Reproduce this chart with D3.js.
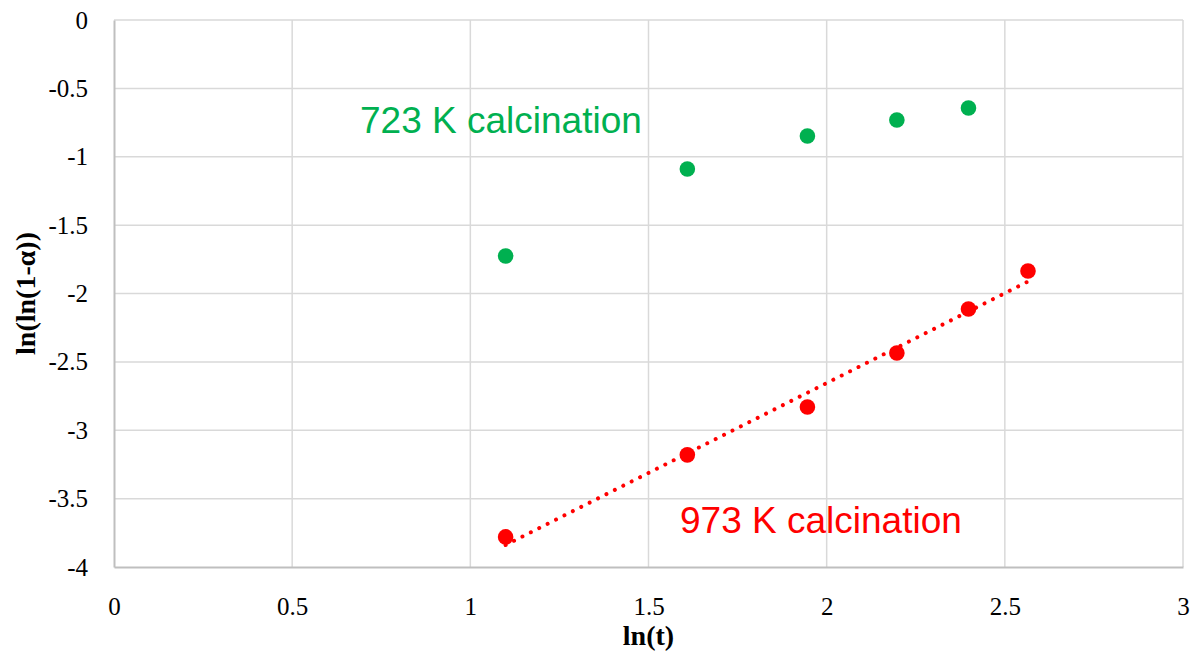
<!DOCTYPE html>
<html>
<head>
  <meta charset="utf-8">
  <script src="https://d3js.org/d3.v7.min.js"></script>
  <style>
    body { margin: 0; background: #fff; }
  </style>
</head>
<body>
<script>
  // data
  var lnT = [1.099, 1.609, 1.946, 2.197, 2.398, 2.565];
  var green723 = [-1.726, -1.09, -0.848, -0.731, -0.644];
  var red973 = [-3.78, -3.18, -2.83, -2.435, -2.113, -1.835];
  var xTicks = [0, 0.5, 1, 1.5, 2, 2.5, 3];
  var yTicks = [0, -0.5, -1, -1.5, -2, -2.5, -3, -3.5, -4];

  var W = 1195, H = 655;
  var pLeft = 114, pRight = 1183, pTop = 20, pBottom = 567;
  var serif = "'Liberation Serif', 'DejaVu Serif', serif";

  var svg = d3.select("body").append("svg")
    .attr("width", W)
    .attr("height", H);

  var x = d3.scaleLinear().domain([0, 3]).range([pLeft, pRight]);
  var y = d3.scaleLinear().domain([-4, 0]).range([pBottom, pTop]);

  // gridlines
  svg.append("g").selectAll("line")
    .data(xTicks.slice(1))
    .enter().append("line")
    .attr("x1", d => x(d)).attr("x2", d => x(d))
    .attr("y1", pTop).attr("y2", pBottom)
    .style("stroke", "#d9d9d9").style("stroke-width", 1.5);

  svg.append("g").selectAll("line")
    .data(yTicks.slice(0, -1))
    .enter().append("line")
    .attr("x1", pLeft).attr("x2", pRight)
    .attr("y1", d => y(d)).attr("y2", d => y(d))
    .style("stroke", "#d9d9d9").style("stroke-width", 1.5);

  // axes (plain hyphen for negatives, like the original)
  var fmt = d => String(d);

  var xAxis = svg.append("g")
    .attr("transform", "translate(0," + pBottom + ")")
    .call(d3.axisBottom(x).tickValues(xTicks).tickSize(0).tickPadding(30).tickFormat(fmt));
  xAxis.select(".domain").style("stroke", "#bfbfbf").style("stroke-width", 2);

  var yAxis = svg.append("g")
    .attr("transform", "translate(" + pLeft + ",0)")
    .call(d3.axisLeft(y).tickValues(yTicks).tickSize(0).tickPadding(26).tickFormat(fmt));
  yAxis.select(".domain").style("stroke", "#bfbfbf").style("stroke-width", 2);

  svg.selectAll(".tick text")
    .style("font-family", serif)
    .style("font-size", "25px")
    .style("fill", "#000");

  // axis titles
  svg.append("text")
    .attr("x", (pLeft + pRight) / 2)
    .attr("y", 645)
    .attr("text-anchor", "middle")
    .style("font-family", serif)
    .style("font-weight", "bold")
    .style("font-size", "28px")
    .text("ln(t)");

  svg.append("text")
    .attr("transform", "translate(35," + ((pTop + pBottom) / 2) + ") rotate(-90)")
    .attr("text-anchor", "middle")
    .style("font-family", serif)
    .style("font-weight", "bold")
    .style("font-size", "28px")
    .text("ln(ln(1-α))");

  // linear trendline for the 973 K series
  var mx = d3.mean(lnT), my = d3.mean(red973);
  var sxy = d3.sum(lnT, (v, i) => (v - mx) * (red973[i] - my));
  var sxx = d3.sum(lnT, v => (v - mx) * (v - mx));
  var slope = sxy / sxx, icpt = my - slope * mx;
  var x0 = d3.min(lnT), x1 = d3.max(lnT);

  svg.append("line")
    .attr("x1", x(x0)).attr("y1", y(icpt + slope * x0))
    .attr("x2", x(x1)).attr("y2", y(icpt + slope * x1))
    .style("stroke", "#ff0000")
    .style("stroke-width", 4)
    .style("stroke-linecap", "round")
    .style("stroke-dasharray", "0.01 9.4");

  // points
  svg.append("g").selectAll("circle")
    .data(green723)
    .enter().append("circle")
    .attr("cx", (d, i) => x(lnT[i]))
    .attr("cy", d => y(d))
    .attr("r", 7.8)
    .style("fill", "#00b050");

  svg.append("g").selectAll("circle")
    .data(red973)
    .enter().append("circle")
    .attr("cx", (d, i) => x(lnT[i]))
    .attr("cy", d => y(d))
    .attr("r", 7.8)
    .style("fill", "#ff0000");

  // labels
  svg.append("text")
    .attr("x", 360).attr("y", 133)
    .style("font-family", "'Liberation Sans', Arial, sans-serif")
    .style("font-size", "37px")
    .style("fill", "#00b050")
    .text("723 K calcination");

  svg.append("text")
    .attr("x", 680).attr("y", 533)
    .style("font-family", "'Liberation Sans', Arial, sans-serif")
    .style("font-size", "37px")
    .style("fill", "#ff0000")
    .text("973 K calcination");
</script>
</body>
</html>
